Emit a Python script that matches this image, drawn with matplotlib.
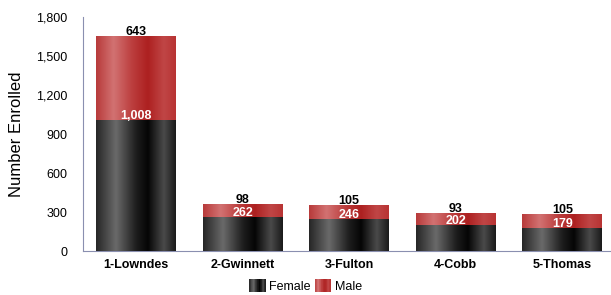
import numpy as np
import matplotlib
matplotlib.use("Agg")
import matplotlib.pyplot as plt
from matplotlib.colors import LinearSegmentedColormap
from matplotlib.patches import Rectangle
from matplotlib.legend_handler import HandlerBase

plt.rcParams['font.family'] = ['Liberation Sans', 'DejaVu Sans']

categories = ['1-Lowndes', '2-Gwinnett', '3-Fulton', '4-Cobb', '5-Thomas']
female = [1008, 262, 246, 202, 179]
male = [643, 98, 105, 93, 105]
yticks = [0, 300, 600, 900, 1200, 1500, 1800]

fig = plt.figure(figsize=(6.11, 2.95), dpi=100)
ax = fig.add_axes([0.1353, 0.149, 0.8723, 0.793])

x = np.arange(len(categories))
w = 0.75
bf = ax.bar(x, female, w, color='#151515', label='Female', zorder=2)
bm = ax.bar(x, male, w, bottom=female, color='#b83030', label='Male', zorder=2)

black_cmap = LinearSegmentedColormap.from_list('blk', [
    (0.0, '#262626'), (0.25, '#6a6a6a'), (0.5, '#1e1e1e'), (0.65, '#050505'),
    (0.85, '#4a4a4a'), (1.0, '#1a1a1a')])
red_cmap = LinearSegmentedColormap.from_list('red', [
    (0.0, '#b83a3a'), (0.22, '#d27272'), (0.45, '#bc3e3e'), (0.65, '#ad2020'),
    (0.85, '#c04646'), (1.0, '#b83333')])
grad = np.linspace(0, 1, 256).reshape(1, -1)

for bars, cmap in ((bf, black_cmap), (bm, red_cmap)):
    for p in bars:
        x0, y0, ww, hh = p.get_x(), p.get_y(), p.get_width(), p.get_height()
        im = ax.imshow(grad, cmap=cmap, aspect='auto', extent=(x0, x0 + ww, y0, y0 + hh),
                       zorder=3, interpolation='bicubic')
        im.set_clip_path(p)

for i in range(len(categories)):
    ax.text(x[i], female[i] + 8, f'{female[i]:,}', ha='center', va='baseline',
            color='white', fontsize=9, fontweight='bold', zorder=5)
    ax.text(x[i], female[i] + male[i] + 8, f'{male[i]:,}', ha='center', va='baseline',
            color='black', fontsize=9, fontweight='bold', zorder=5)

ax.set_xlim(-0.5, len(categories) - 0.5)
ax.set_ylim(0, 1800)
ax.set_yticks(yticks)
ax.set_yticklabels([f'{v:,}' for v in yticks], fontsize=9)
ax.set_xticks(x)
ax.set_xticklabels(categories, fontsize=9, fontweight='bold')
ax.tick_params(axis='y', length=0, pad=11)
ax.tick_params(axis='x', length=0, pad=6)
ax.set_ylabel('Number Enrolled', fontsize=12, labelpad=9)
for s in ('top', 'right'):
    ax.spines[s].set_visible(False)
for s in ('left', 'bottom'):
    ax.spines[s].set_color('#8a8fb0')
    ax.spines[s].set_linewidth(0.8)


class GradHandler(HandlerBase):
    def __init__(self, cmap):
        super().__init__()
        self.cmap = cmap

    def create_artists(self, legend, orig_handle, xdescent, ydescent, width, height,
                       fontsize, trans):
        n = 24
        arts = []
        for k in range(n):
            r = Rectangle((-xdescent + width * k / n, -ydescent), width / n + 0.3, height,
                          facecolor=self.cmap((k + 0.5) / n), edgecolor='none',
                          transform=trans)
            arts.append(r)
        return arts


fig.legend(handles=[bf, bm], labels=['Female', 'Male'], loc='lower center',
           bbox_to_anchor=(0.5, -0.018), ncol=2, frameon=False, fontsize=9,
           borderpad=0.1, handlelength=1.3, handleheight=1.2, columnspacing=0.3,
           handletextpad=0.3,
           handler_map={bf: GradHandler(black_cmap), bm: GradHandler(red_cmap)})

fig.savefig('out.png', dpi=100)
